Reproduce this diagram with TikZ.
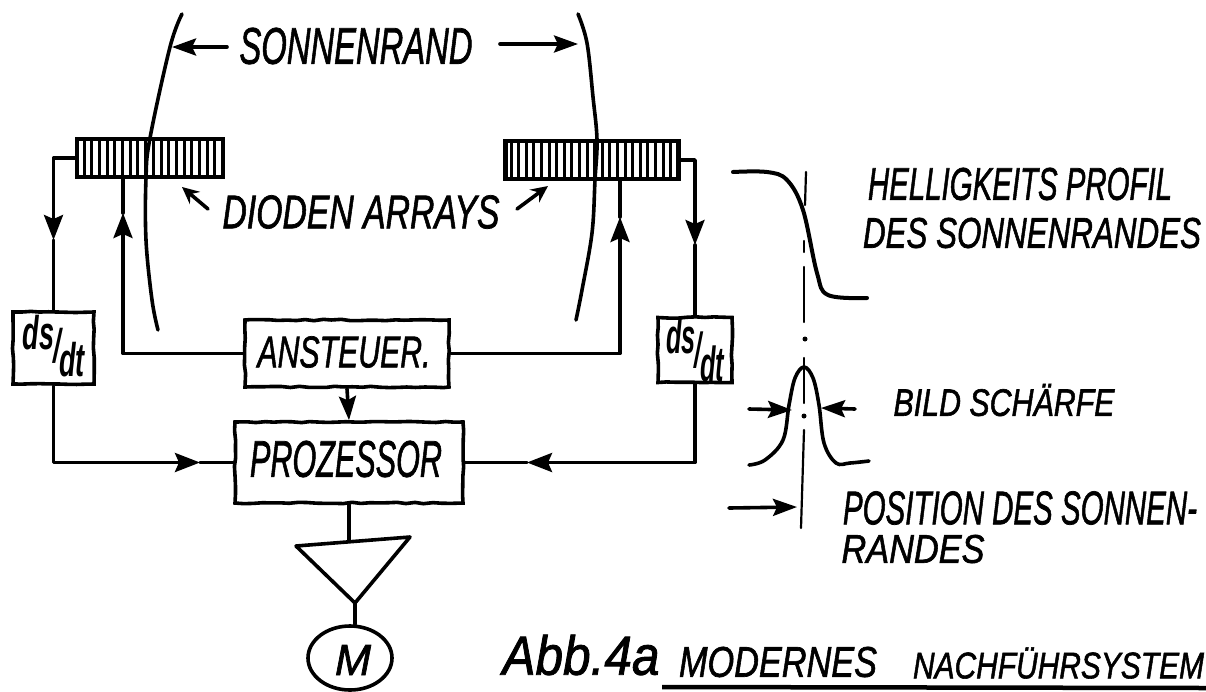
\documentclass[tikz,border=0pt]{standalone}
\usepackage{fontspec}
\setmainfont{Liberation Sans}[ItalicFeatures={FakeBold=1.6}]
\usepackage{graphicx}
\usetikzlibrary{arrows.meta,shapes.geometric,decorations.pathmorphing}
\newcommand{\handx}[3]{\resizebox{#1pt}{#2pt}{\itshape #3}}
\newcommand{\dsdt}[2]{\resizebox{#1pt}{#2pt}{\bfseries\itshape\raisebox{.55ex}{ds}\kern-.05em/\kern-.05em\raisebox{-.55ex}{dt}}}
\tikzset{
  wire/.style={line width=3.6pt,line join=round,line cap=round},
  thinline/.style={line width=2.2pt,line cap=round},
  curve/.style={line width=3.6pt,line cap=round,line join=round},
  headbig/.style={-{Stealth[length=25pt,width=19pt,inset=4pt]}},
  headsmall/.style={-{Stealth[length=24pt,width=17pt,inset=4pt]}},
  headopen/.style={-{Stealth[length=17pt,width=16pt,inset=6pt]}},
  box/.style={draw,line width=3.6pt,rectangle,inner sep=0pt,
    decorate,decoration={random steps,segment length=9pt,amplitude=.7pt}},
  arraybox/.style={draw,line width=4.2pt,rectangle,inner sep=0pt},
  ticks/.style={line width=3pt},
  txt/.style={inner sep=0pt,outer sep=0pt,text=black},
}
\begin{document}
\begin{tikzpicture}[x=1pt,y=-1pt]
\useasboundingbox (0,0) rectangle (1206,691);
\fill[white] (0,0) rectangle (1206,691);

% sun edges
\draw[curve] plot[smooth,tension=.6] coordinates {(182,14) (170,47) (150,138) (146,178) (146,240) (152,300) (158,330)};
\draw[curve] plot[smooth,tension=.6] coordinates {(578,14) (587,43) (593,97) (597,140) (595,180) (592,233) (582,290) (576,320)};

% diode arrays
\node[arraybox,minimum width=146pt,minimum height=38pt] (arrayL) at (150,158) {};
\node[arraybox,minimum width=173pt,minimum height=38pt] (arrayR) at (592,160) {};
\foreach \i in {0,...,17} \draw[ticks] (84+\i*7.7,141) -- (84+\i*7.7,176);
\foreach \i in {0,...,21} \draw[ticks] (511+\i*7.6,143) -- (511+\i*7.6,178);

% blocks
\node[box,minimum width=81pt,minimum height=72pt] (dsL) at (53.5,348) {};
\node[box,minimum width=74pt,minimum height=65pt] (dsR) at (695,350) {};
\node[box,minimum width=204pt,minimum height=67pt] (ansteuer) at (347,353.5) {};
\node[box,minimum width=228pt,minimum height=81pt] (prozessor) at (349,462.5) {};
\node[draw,line width=3.6pt,ellipse,inner sep=0pt,minimum width=84pt,minimum height=64pt] (motor) at (350,658) {};

% block texts
\node[txt] (tAnst) at (344,352) {\handx{173}{31}{ANSTEUER.}};
\node[txt] (tProz) at (346,459) {\handx{192}{36}{PROZESSOR}};
\node[txt] (tM) at (353,660) {\handx{36}{30}{M}};
\node[txt] (tdsL) at (54,346) {\dsdt{62}{48}};
\node[txt] (tdsR) at (695,350) {\dsdt{58}{50}};

% amplifier triangle
\coordinate (triL) at (296,546);
\coordinate (triR) at (410,537);
\coordinate (triB) at (355,603);
\coordinate (triT) at (349,541);
\draw[wire] (triL) -- (triR) -- (triB) -- cycle;

% connectors
\coordinate (tipL1) at (53.5,240);
\coordinate (tipR1) at (695,245);
\coordinate (tipL2) at (123,213);
\coordinate (tipR2) at (620,217);
\coordinate (tipP1) at (200,462.5);
\coordinate (tipP2) at (527,462.5);

\draw[wire,headbig] (arrayL.west) -| (tipL1);
\draw[wire] (tipL1) -- (dsL.north);
\draw[wire,headbig] (arrayR.east) -| (tipR1);
\draw[wire] (tipR1) -- (dsR.north);
\draw[wire,headbig] (ansteuer.west) -| (tipL2);
\draw[wire] (tipL2) -- (tipL2 |- arrayL.south);
\draw[wire,headbig] (ansteuer.east) -| (tipR2);
\draw[wire] (tipR2) -- (tipR2 |- arrayR.south);
\draw[wire,headbig] (dsL.south) |- (tipP1);
\draw[wire] (tipP1) -- (prozessor.west);
\draw[wire,headbig] (dsR.south) |- (tipP2);
\draw[wire] (tipP2) -- (prozessor.east);
\draw[wire,headsmall] (ansteuer.south) -- (prozessor.north);
\draw[wire] (prozessor.south) -- (triT);
\draw[wire] (triB) -- (motor.north -| triB);

% Sonnenrand label and arrows
\node[txt] (sonnenrand) at (356,46) {\handx{233}{36}{SONNENRAND}};
\coordinate (srL) at (227,47);
\coordinate (srLt) at (172,47);
\coordinate (srR) at (500,44);
\coordinate (srRt) at (578,44);
\draw[wire,headsmall] (srL) -- (srLt);
\draw[wire,headsmall] (srR) -- (srRt);

% Dioden arrays label and arrows
\node[txt] (dioden) at (361,212) {\handx{277}{33}{DIODEN ARRAYS}};
\coordinate (daL) at (208,209);
\coordinate (daLt) at (182,187);
\coordinate (daR) at (517,209);
\coordinate (daRt) at (548,186);
\draw[wire,headopen] (daL) -- (daLt);
\draw[wire,headopen] (daR) -- (daRt);

% brightness profile
\draw[curve,line width=4pt] plot[smooth,tension=.6] coordinates {(733,172) (767,172) (787,180) (803,210) (817,273) (828,295) (867,298)};
\coordinate (ax1) at (806,172); \coordinate (ax2) at (805,205);
\coordinate (ax3) at (804,241); \coordinate (ax4) at (804,252);
\coordinate (ax5) at (804,267); \coordinate (ax6) at (804,322);
\coordinate (ax7) at (804,358); \coordinate (ax8) at (804,403);
\coordinate (ax9) at (804,430); \coordinate (ax10) at (801,528);
\draw[thinline] (ax1) -- (ax2);
\draw[thinline] (ax3) -- (ax4);
\draw[thinline] (ax5) -- (ax6);
\fill (805,339) circle (2.5pt);
\draw[thinline] (ax7) -- (ax8);
\fill (804,416) circle (2.5pt);
\draw[thinline] (ax9) -- (ax10);

% bell curve
\draw[curve] plot[smooth,tension=.6] coordinates {(749,465) (765,460) (783,440) (789,405) (795,378) (804,367) (813,378) (819,405) (824,443) (836,463) (850,463) (869,461)};
\coordinate (bsL) at (749,409); \coordinate (bsLt) at (792,410);
\coordinate (bsR) at (855,409); \coordinate (bsRt) at (821,408);
\draw[wire,headsmall] (bsL) -- (bsLt);
\draw[wire,headsmall] (bsR) -- (bsRt);

% position arrow
\coordinate (posS) at (729,508); \coordinate (posT) at (797,507);
\draw[wire,headsmall] (posS) -- (posT);

% right-hand labels
\node[txt] (hell) at (1020,184) {\handx{304}{32}{HELLIGKEITS PROFIL}};
\node[txt] (des) at (1032,233) {\handx{338}{30}{DES SONNENRANDES}};
\node[txt] (bild) at (1004,400) {\handx{221}{32}{BILD SCHÄRFE}};
\node[txt] (pos) at (1020,508) {\handx{354}{33}{POSITION DES SONNEN-}};
\node[txt] (rand) at (913,549) {\handx{143}{28}{RANDES}};

% caption
\node[txt] (abb) at (581,655) {\handx{157}{40}{Abb.4a}};
\node[txt] (mod) at (778,662) {\handx{198}{30}{MODERNES}};
\node[txt,anchor=west] (nach) at (913,663) {\handx{291}{31}{NACHFÜHRSYSTEM}};
\coordinate (ulS) at (662,687); \coordinate (ulE) at (1206,688);
\draw[line width=4.5pt] (ulS) -- (ulE);
\end{tikzpicture}
\end{document}
